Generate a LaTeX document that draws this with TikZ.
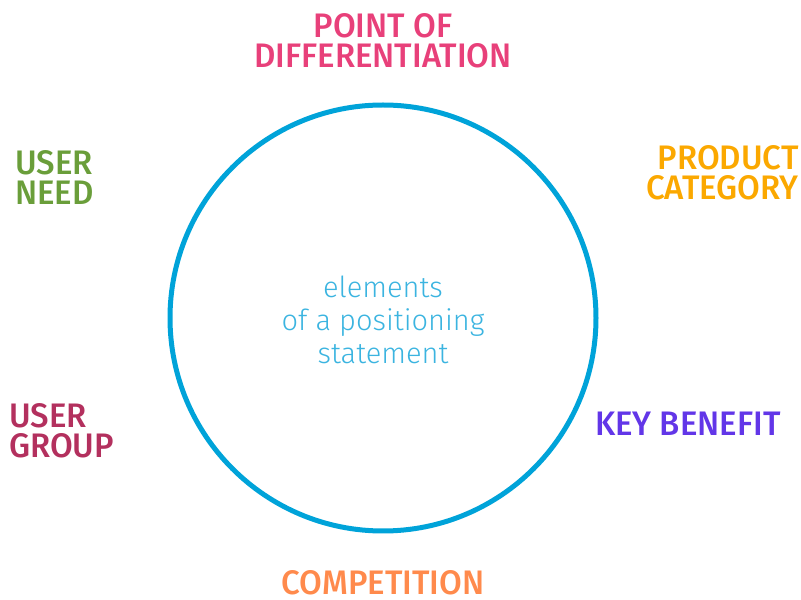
\documentclass[tikz,border=0pt]{standalone}
\usepackage{fontspec}
\setmainfont{Fira Sans Medium}[FakeStretch=0.97]
\newfontfamily\lightfont{Fira Sans Light}
\definecolor{cdiff}{HTML}{E8407A}
\definecolor{cneed}{HTML}{6A9E3A}
\definecolor{ccat}{HTML}{FBA800}
\definecolor{cgroup}{HTML}{B3305E}
\definecolor{cbenefit}{HTML}{6236E8}
\definecolor{ccomp}{HTML}{FF8A4C}
\definecolor{cring}{HTML}{00A3D9}
\definecolor{ccenter}{HTML}{3BB4E0}
\begin{document}
\begin{tikzpicture}[x=1pt,y=1pt,
  lab/.style={inner sep=0pt, font=\fontsize{34}{30}\selectfont},
  ring/.style={draw=cring, line width=5pt}]
\useasboundingbox (0,0) rectangle (801,600);
% central ring
\node[ring, circle, minimum size=426pt, inner sep=0pt] (ring) at (383,282) {};
\node[inner sep=0pt, text=ccenter, align=center,
      font=\lightfont\fontsize{29}{33}\selectfont] (center) at (383,280)
  {elements\\of a positioning\\statement};
% labels around the ring
\node[lab, text=cdiff, align=center, anchor=north] (diff) at (383,587) {POINT OF\\DIFFERENTIATION};
\node[lab, text=cneed, align=left, anchor=north west] (need) at (15,450) {USER\\NEED};
\node[lab, text=ccat, align=right, anchor=north east] (cat) at (799,455) {PRODUCT\\CATEGORY};
\node[lab, text=cgroup, align=left, anchor=north west] (group) at (9,197) {USER\\GROUP};
\node[lab, text=cbenefit, anchor=north west] (benefit) at (595,188) {KEY BENEFIT};
\node[lab, text=ccomp, anchor=north] (comp) at (383,30) {COMPETITION};
\end{tikzpicture}
\end{document}
